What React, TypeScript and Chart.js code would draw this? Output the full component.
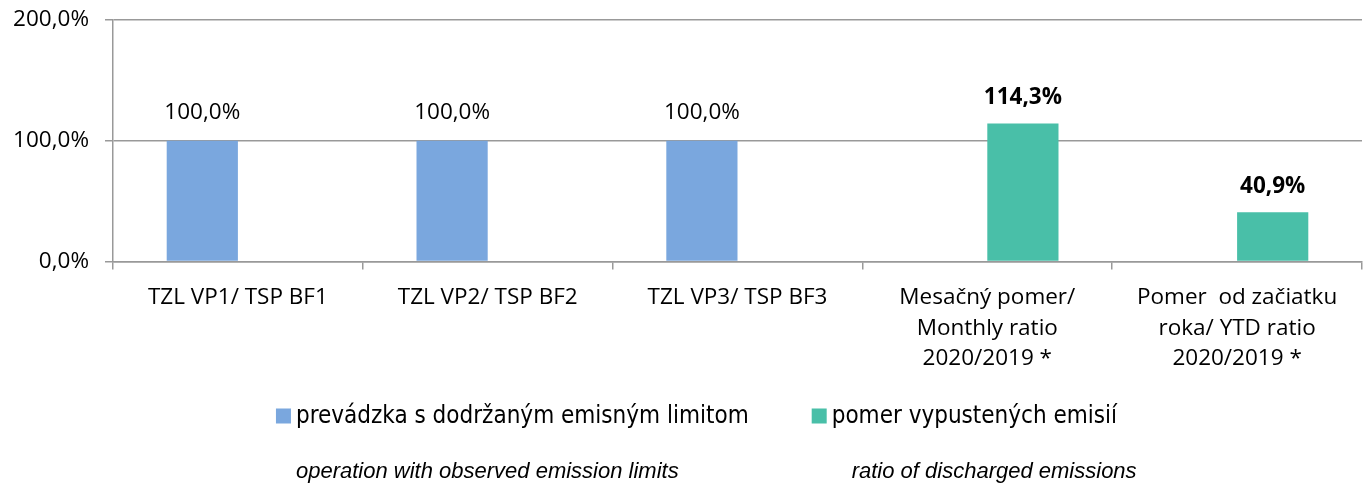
import React, { useEffect, useRef } from "react";
import { Chart, registerables } from "chart.js";

Chart.register(...registerables);

const categories: string[][] = [
  ["TZL VP1/ TSP BF1"],
  ["TZL VP2/ TSP BF2"],
  ["TZL VP3/ TSP BF3"],
  ["Mesačný pomer/", "Monthly ratio", "2020/2019 *"],
  ["Pomer  od začiatku", "roka/ YTD ratio", "2020/2019 *"],
];
const limitValues: (number | null)[] = [100, 100, 100, null, null];
const ratioValues: (number | null)[] = [null, null, null, 114.3, 40.9];
const seriesNames = ["prevádzka s dodržaným emisným limitom", "pomer vypustených emisií"];
const seriesNotes = ["operation with observed emission limits", "ratio of discharged emissions"];
const yTicks = [0, 100, 200];

const BLUE = "#7aa7de";
const GREEN = "#49bfa8";
const GRID = "#999999";
const FONT = "'Open Sans', sans-serif";
const FS = 22.5;
const NARROW = "'DejaVu Sans Condensed', 'DejaVu Sans', sans-serif";
const NOTE_FONT = "italic 22px 'Liberation Sans', Arial, sans-serif";

const fmt = (v: number) => v.toFixed(1).replace(".", ",") + "%";

const valueLabels = {
  id: "valueLabels",
  afterDatasetsDraw(chart: any) {
    const ctx = chart.ctx;
    ctx.save();
    ctx.textAlign = "center";
    ctx.textBaseline = "middle";
    ctx.fillStyle = "#000";
    chart.data.datasets.forEach((ds: any, i: number) => {
      const meta = chart.getDatasetMeta(i);
      ctx.font = (i === 1 ? "bold " : "") + FS + "px " + FONT;
      meta.data.forEach((bar: any, j: number) => {
        const v = ds.data[j];
        if (v == null) return;
        ctx.fillText(fmt(v), bar.x, bar.y - (i === 1 ? 26 : 28));
      });
    });
    ctx.restore();
  },
};

// custom bottom legend with the English notes underneath
const bottomLegend = {
  id: "bottomLegend",
  afterDraw(chart: any) {
    const ctx = chart.ctx;
    const box = 15;
    const boxGap = 5;
    const itemGap = 63;
    ctx.save();
    ctx.font = "24px " + NARROW;
    const widths = chart.data.datasets.map((ds: any) => ctx.measureText(ds.label).width);
    const total = widths.reduce((a: number, w: number) => a + box + boxGap + w, 0) + itemGap * (widths.length - 1);
    let x = chart.width / 2 + 14 - total / 2;
    const y = chart.height - 68;
    const starts: number[] = [];
    chart.data.datasets.forEach((ds: any, i: number) => {
      ctx.fillStyle = ds.backgroundColor;
      ctx.fillRect(x, y - box / 2, box, box);
      starts.push(x);
      ctx.fillStyle = "#000";
      ctx.textBaseline = "middle";
      ctx.textAlign = "left";
      ctx.fillText(ds.label, x + box + boxGap, y + 1);
      x += box + boxGap + widths[i] + itemGap;
    });
    ctx.font = NOTE_FONT;
    ctx.textBaseline = "middle";
    ctx.fillStyle = "#000";
    const ny = chart.height - 12;
    ctx.fillText(seriesNotes[0], starts[0] + 20, ny);
    ctx.fillText(seriesNotes[1], starts[1] + 40, ny);
    ctx.restore();
  },
};

export default function App() {
  const ref = useRef<HTMLCanvasElement>(null);
  useEffect(() => {
    if (!ref.current) return;
    const chart = new Chart(ref.current, {
      type: "bar",
      data: {
        labels: categories,
        datasets: [
          {
            label: seriesNames[0],
            data: limitValues,
            backgroundColor: BLUE,
            categoryPercentage: 0.57,
            barPercentage: 1,
          },
          {
            label: seriesNames[1],
            data: ratioValues,
            backgroundColor: GREEN,
            categoryPercentage: 0.57,
            barPercentage: 1,
          },
        ],
      },
      options: {
        animation: false,
        responsive: true,
        maintainAspectRatio: false,
        layout: { padding: { left: 0, right: 3, top: 20, bottom: 97 } },
        plugins: {
          tooltip: { enabled: false },
          legend: { display: false },
        },
        scales: {
          x: {
            afterFit: (scale: any) => {
              scale.paddingTop = 0;
            },
            grid: {
              offset: true,
              drawOnChartArea: false,
              drawTicks: true,
              tickLength: 8,
              color: GRID,
              lineWidth: 1.5,
            },
            border: { color: GRID, width: 1.5 },
            ticks: {
              color: "#000",
              font: { family: FONT, size: FS, lineHeight: 1.355 },
              maxRotation: 0,
              autoSkip: false,
              padding: 13,
            },
          },
          y: {
            min: 0,
            max: 200,
            afterBuildTicks: (scale: any) => {
              scale.ticks = yTicks.map((v) => ({ value: v }));
            },
            afterFit: (scale: any) => {
              scale.width = 113;
              scale.paddingTop = 0;
            },
            grid: { color: GRID, tickLength: 8, lineWidth: 1.5 },
            border: { color: GRID, width: 1.5 },
            ticks: {
              color: "#000",
              font: { family: FONT, size: FS },
              padding: 16,
              callback: (v: any) => fmt(Number(v)),
            },
          },
        },
      },
      plugins: [valueLabels, bottomLegend],
    });
    return () => chart.destroy();
  }, []);
  return (
    <div style={{ position: "fixed", left: 0, top: 0, width: 1365, height: 484, background: "#fff" }}>
      <canvas ref={ref} />
    </div>
  );
}
